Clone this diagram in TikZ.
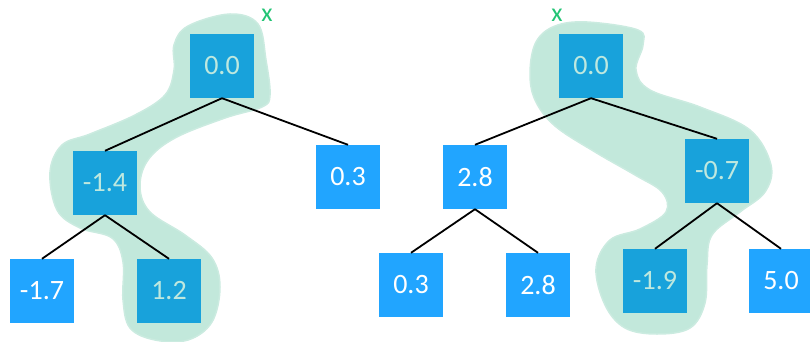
\documentclass[tikz,border=0pt]{standalone}
\usepackage{fontspec}
\setmainfont{Carlito}
\definecolor{boxblue}{HTML}{21A5FF}
\definecolor{hlbox}{HTML}{18A2DB}
\definecolor{hlgreen}{HTML}{C2E8DB}
\definecolor{hltext}{HTML}{BEE8DF}
\definecolor{xgreen}{HTML}{22C474}
\tikzset{
  tnode/.style={rectangle, fill=boxblue, text=white, minimum size=64pt, inner sep=0pt,
    font=\fontsize{28}{30}\selectfont},
  hnode/.style={tnode, fill=hlbox, text=hltext},
  edge/.style={draw=black, line width=1.8pt},
  blob/.style={fill=hlgreen, draw=hlgreen!85!white, line width=1.5pt},
  xlab/.style={text=xgreen, font=\fontsize{26}{28}\selectfont, inner sep=0pt}
}
\begin{document}
\begin{tikzpicture}[x=1pt,y=-1pt]
\useasboundingbox (0,0) rectangle (810,342);
% highlight blobs
\path[blob] plot[smooth cycle, tension=0.6] coordinates {
  (230,14) (258,24) (266,60) (270,95) (262,107) (225,118) (175,138) (148,160) (140,187)
  (150,212) (185,235) (212,258) (220,287) (212,322) (188,340) (155,340) (130,328)
  (123,300) (123,262) (112,238) (80,228) (57,210) (50,172) (62,145) (90,134)
  (135,115) (165,95) (174,70) (174,45) (188,26)};
\path[blob] plot[smooth cycle, tension=0.6] coordinates {
  (587,22) (638,30) (643,45) (636,70) (650,90) (700,107) (750,130) (771,165)
  (765,192) (740,212) (712,235) (707,265) (705,303) (690,328) (657,334) (625,328)
  (605,305) (596,268) (610,240) (640,229) (666,212) (662,192) (635,175) (595,152)
  (555,126) (535,100) (530,72) (536,42) (555,26)};
% nodes
\node[hnode] (r1) at (222,66) {0.0};
\node[hnode] (a1) at (105,183) {-1.4};
\node[tnode] (b1) at (348,177) {0.3};
\node[tnode] (c1) at (42,291) {-1.7};
\node[hnode] (d1) at (169,291) {1.2};
\node[hnode] (r2) at (591,66) {0.0};
\node[tnode] (a2) at (475,177) {2.8};
\node[hnode] (b2) at (717,171) {-0.7};
\node[tnode] (c2) at (411,285) {0.3};
\node[tnode] (d2) at (538,285) {2.8};
\node[hnode] (e2) at (655,281) {-1.9};
\node[tnode] (f2) at (781,281) {5.0};
% edges
\draw[edge] (r1.south) -- (a1.north);
\draw[edge] (r1.south) -- (b1.north);
\draw[edge] (a1.south) -- (c1.north);
\draw[edge] (a1.south) -- (d1.north);
\draw[edge] (r2.south) -- (a2.north);
\draw[edge] (r2.south) -- (b2.north);
\draw[edge] (a2.south) -- (c2.north);
\draw[edge] (a2.south) -- (d2.north);
\draw[edge] (b2.south) -- (e2.north);
\draw[edge] (b2.south) -- (f2.north);
% labels
\node[xlab] (x1) at (267,15) {x};
\node[xlab] (x2) at (557,15) {x};
\end{tikzpicture}
\end{document}
